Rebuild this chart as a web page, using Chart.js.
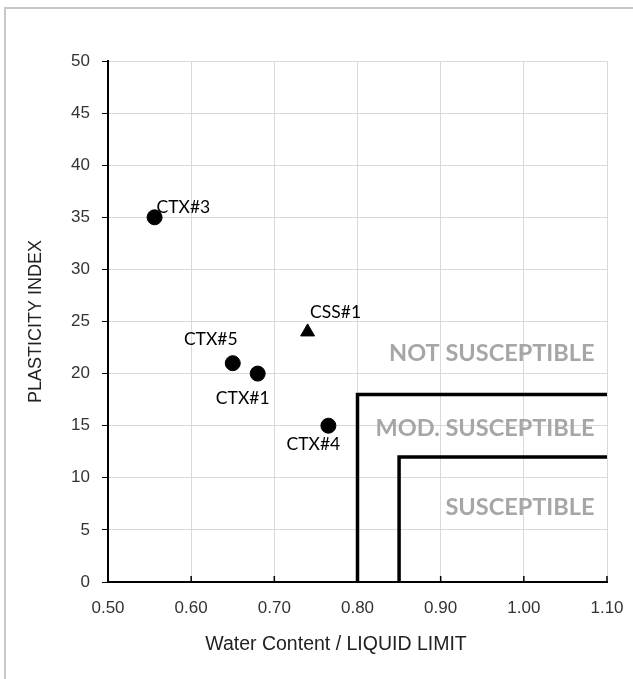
<!DOCTYPE html>
<html>
<head>
<meta charset="utf-8">
<script src="https://cdn.jsdelivr.net/npm/chart.js@4/dist/chart.umd.min.js"></script>
<style>
  html, body { margin: 0; padding: 0; background: #fff; }
  #frame { position: absolute; left: 4px; top: 7px; width: 640px; height: 680px;
           border-top: 2px solid #c8c8c8; border-left: 2px solid #c8c8c8; }
  #wrap { position: absolute; left: 0; top: 0; width: 633px; height: 679px; }
</style>
</head>
<body>
<div id="frame"></div>
<div id="wrap"><canvas id="chart" width="633" height="679"></canvas></div>
<script>
// sample points (circles)
const sampleNames = ['CTX#1', 'CTX#3', 'CTX#4', 'CTX#5'];
const sampleX = [0.68, 0.556, 0.765, 0.65];
const sampleY = [20, 35, 15, 21];

// CSS sample (triangle)
const cssNames = ['CSS#1'];
const cssX = [0.74];
const cssY = [24];

// susceptibility boundaries
const modBoundX = [0.80, 0.80, 1.10];
const modBoundY = [0, 18, 18];
const suscBoundX = [0.85, 0.85, 1.10];
const suscBoundY = [0, 12, 12];

// zone captions
const zoneNames = ['NOT SUSCEPTIBLE', 'MOD. SUSCEPTIBLE', 'SUSCEPTIBLE'];
const zoneY = [21.9, 14.7, 7.15];
const zoneX = 1.085;

const xTicks = [0.5, 0.6, 0.7, 0.8, 0.9, 1.0, 1.1];
const xTitle = 'Water Content / LIQUID LIMIT';

// label offsets (px) for point names, by name
const labelPos = {
    'CTX#1': { dx: -15, dy: 25, align: 'center' },
    'CTX#3': { dx: 2, dy: -10, align: 'left' },
    'CTX#4': { dx: -15, dy: 19, align: 'center' },
    'CTX#5': { dx: -22, dy: -24, align: 'center' },
    'CSS#1': { dx: 28, dy: -20, align: 'center' }
};

const toPts = (xs, ys) => xs.map((x, i) => ({ x: x, y: ys[i] }));

const labelsPlugin = {
    id: 'labelsPlugin',
    afterDatasetsDraw(chart) {
        const ctx = chart.ctx;
        const xs = chart.scales.x, ys = chart.scales.y;
        ctx.save();
        // point names
        ctx.fillStyle = '#000';
        ctx.font = '17.5px Lato';
        ctx.textBaseline = 'middle';
        [[0, sampleNames], [1, cssNames]].forEach(([di, names]) => {
            chart.getDatasetMeta(di).data.forEach((el, i) => {
                const p = labelPos[names[i]];
                ctx.textAlign = p.align;
                ctx.fillText(names[i], el.x + p.dx, el.y + p.dy);
            });
        });
        // zone captions
        ctx.fillStyle = '#a6a6a6';
        ctx.font = 'bold 23.5px Lato';
        ctx.textAlign = 'right';
        zoneNames.forEach((t, i) => {
            ctx.fillText(t, xs.getPixelForValue(zoneX), ys.getPixelForValue(zoneY[i]));
        });
        // x axis title (sits left of the plot centre, as in the original)
        ctx.fillStyle = '#222';
        ctx.font = '19.5px "Liberation Sans"';
        ctx.textAlign = 'center';
        ctx.fillText(xTitle, 336, 645);
        // inward ticks on x axis
        ctx.strokeStyle = '#000';
        ctx.lineWidth = 1.5;
        xTicks.forEach(v => {
            const px = xs.getPixelForValue(v);
            ctx.beginPath();
            ctx.moveTo(px, chart.chartArea.bottom);
            ctx.lineTo(px, chart.chartArea.bottom - 6);
            ctx.stroke();
        });
        ctx.restore();
    }
};

new Chart(document.getElementById('chart'), {
    type: 'scatter',
    data: {
        datasets: [
            {
                label: 'samples',
                data: toPts(sampleX, sampleY),
                pointStyle: 'circle',
                pointRadius: 7.5,
                backgroundColor: '#000',
                borderColor: '#000'
            },
            {
                label: 'css',
                data: toPts(cssX, cssY),
                pointStyle: 'triangle',
                pointRadius: 8,
                backgroundColor: '#000',
                borderColor: '#000'
            },
            {
                label: 'moderate',
                data: toPts(modBoundX, modBoundY),
                showLine: true,
                pointRadius: 0,
                borderColor: '#000',
                borderWidth: 3.5
            },
            {
                label: 'susceptible',
                data: toPts(suscBoundX, suscBoundY),
                showLine: true,
                pointRadius: 0,
                borderColor: '#000',
                borderWidth: 3.5
            }
        ]
    },
    options: {
        responsive: false,
        animation: false,
        layout: { padding: { left: 0, right: 26, top: 61, bottom: 22 } },
        plugins: { legend: { display: false }, tooltip: { enabled: false } },
        scales: {
            x: {
                type: 'linear',
                min: 0.5,
                max: 1.1,
                afterFit: s => { s.height = 75; s.paddingRight = 0; s.paddingLeft = 0; },
                afterBuildTicks: s => { s.ticks = xTicks.map(v => ({ value: v })); },
                grid: { color: '#d9d9d9', drawTicks: false },
                border: { color: '#000', width: 2 },
                ticks: {
                    padding: 16,
                    color: '#333',
                    font: { family: 'Liberation Sans', size: 17 },
                    callback: v => v.toFixed(2)
                }
            },
            y: {
                min: 0,
                max: 50,
                afterFit: s => { s.width = 108; s.paddingTop = 0; s.paddingBottom = 0; },
                grid: { color: '#d9d9d9', tickColor: '#000', tickLength: 6 },
                border: { color: '#000', width: 2 },
                ticks: {
                    stepSize: 5,
                    padding: 12,
                    color: '#333',
                    font: { family: 'Liberation Sans', size: 17 }
                },
                title: {
                    display: true,
                    text: 'PLASTICITY INDEX',
                    color: '#222',
                    font: { family: 'Liberation Sans', size: 18 },
                    padding: { top: 25, bottom: 0 }
                }
            }
        }
    },
    plugins: [labelsPlugin]
});
</script>
</body>
</html>
